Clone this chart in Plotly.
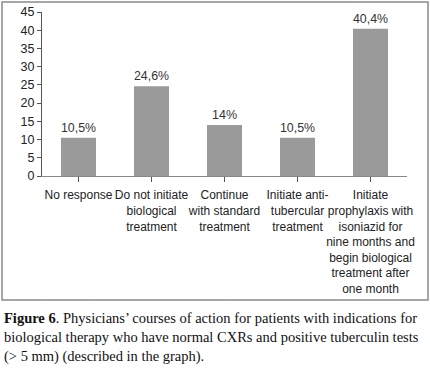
import plotly.graph_objects as go

categories = ["No response", "Do not initiate<br>biological<br>treatment", "Continue<br>with standard<br>treatment",
              "Initiate anti-<br>tubercular<br>treatment",
              "Initiate<br>prophylaxis with<br>isoniazid for<br>nine months and<br>begin biological<br>treatment after<br>one month"]
values = [10.5, 24.6, 14, 10.5, 40.4]
value_labels = ["10,5%", "24,6%", "14%", "10,5%", "40,4%"]
y_ticks = [0, 5, 10, 15, 20, 25, 30, 35, 40, 45]

W, H = 430, 373
L, R, T, B = 42, 23, 12, 197
pw, ph = W - L - R, H - T - B

def px_x(x):
    return (x - L) / pw

def px_y(y):
    return (H - B - y) / ph

fig = go.Figure()
fig.add_trace(go.Bar(
    x=list(range(len(categories))), y=values,
    marker=dict(color="#9a9a9a", line=dict(width=0)),
    width=0.48,
    text=value_labels, textposition="outside", cliponaxis=False,
    textfont=dict(family="Liberation Sans, Arial", size=12.5, color="#333"),
    hoverinfo="skip",
))

fig.update_layout(
    width=W, height=H,
    margin=dict(l=L, r=R, t=T, b=B, autoexpand=False),
    paper_bgcolor="white", plot_bgcolor="white",
    showlegend=False,
    font=dict(family="Liberation Sans, Arial", size=12, color="#222"),
    xaxis=dict(
        tickmode="array", tickvals=list(range(len(categories))), ticktext=categories,
        range=[-0.5, 4.5], showline=True, linecolor="#888", linewidth=1,
        ticks="outside", ticklen=5, tickcolor="#555", showgrid=False, zeroline=False,
        tickangle=0, tickfont=dict(size=12, color="#222"), automargin=False,
        ticklabelstandoff=3,
    ),
    yaxis=dict(
        range=[0, 45], tickvals=y_ticks, showline=True, linecolor="#555", linewidth=1,
        ticks="outside", ticklen=4, tickcolor="#555", showgrid=False, zeroline=False,
        tickfont=dict(size=12.5, color="#222"), automargin=False,
    ),
    shapes=[dict(type="rect", xref="paper", yref="paper",
                 x0=px_x(2), x1=px_x(428), y0=px_y(300), y1=px_y(2),
                 line=dict(color="#8a8a8a", width=1.5), fillcolor="rgba(0,0,0,0)")],
    annotations=[dict(
        xref="paper", yref="paper", x=px_x(2), y=px_y(308), xanchor="left", yanchor="top",
        align="left", showarrow=False,
        font=dict(family="Liberation Serif, Times New Roman", size=14.5, color="#111"),
        text="<b>Figure 6</b>. Physicians’ courses of action for patients with indications for<br>"
             "biological therapy who have normal CXRs and positive tuberculin tests<br>"
             "(&gt; 5 mm) (described in the graph).",
    )],
)

fig.write_html("out.html", config={"displayModeBar": False},
               post_script="document.body.style.margin='0';document.body.style.overflow='hidden';")
